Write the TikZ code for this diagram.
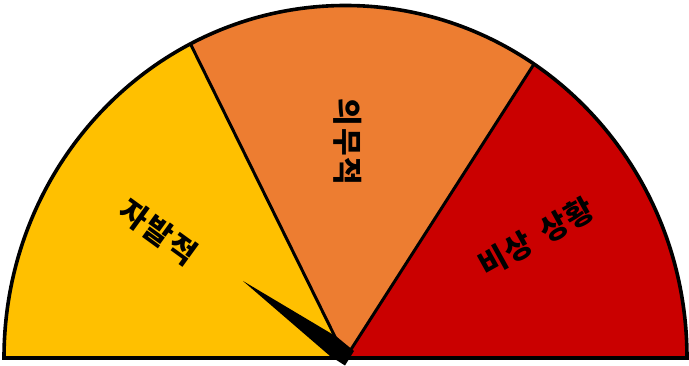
\documentclass[tikz,border=0pt]{standalone}
\usepackage{fontspec}
\newfontfamily\krfont{Noto Sans CJK KR}[LetterSpace=6]
\usepackage{tikz}
\usetikzlibrary{arrows.meta,positioning,calc}
\usepackage{xcolor}
\definecolor{gaugeyellow}{HTML}{FFC000}
\definecolor{gaugeorange}{HTML}{ED7D31}
\definecolor{gaugered}{HTML}{CA0000}

\begin{document}
\begin{tikzpicture}[x=1pt,y=1pt,>=Latex,
  divider/.style={line width=3pt},
  rim/.style={line width=3.6pt,line join=miter},
  zonelabel/.style={font=\krfont\bfseries\fontsize{30}{32}\selectfont,inner sep=0pt}]
\useasboundingbox (0,0) rectangle (689,366);
\coordinate (c) at (345.5,8);
% sectors
\fill[gaugeyellow] (c) -- ++(180:341.5 and 352.5) arc[start angle=180,end angle=117,x radius=341.5,y radius=352.5] -- cycle;
\fill[gaugeorange] (c) -- ++(117:341.5 and 352.5) arc[start angle=117,end angle=56.5,x radius=341.5,y radius=352.5] -- cycle;
\fill[gaugered] (c) -- ++(56.5:341.5 and 352.5) arc[start angle=56.5,end angle=0,x radius=341.5,y radius=352.5] -- cycle;
\coordinate (b1) at ($(c)+(117:341.5 and 352.5)$);
\coordinate (b2) at ($(c)+(56.5:341.5 and 352.5)$);
\draw[divider] (c) -- (b1);
\draw[divider] (c) -- (b2);
\draw[rim] (c) -- ++(180:341.5 and 352.5) arc[start angle=180,end angle=0,x radius=341.5,y radius=352.5] -- cycle;
% labels
\node[zonelabel,rotate=-36] (vol) at (158,134) {자발적};
\node[zonelabel,rotate=-90] (mand) at (348,224) {의무적};
\node[zonelabel,rotate=29] (emer) at (536,129) {비상\hspace{4pt} 상황};
% needle
\coordinate (tip) at (243,85);
\fill (tip) -- (337,29) -- (354,15) -- (345,0.5) -- (330,10) -- cycle;
\end{tikzpicture}
\end{document}
